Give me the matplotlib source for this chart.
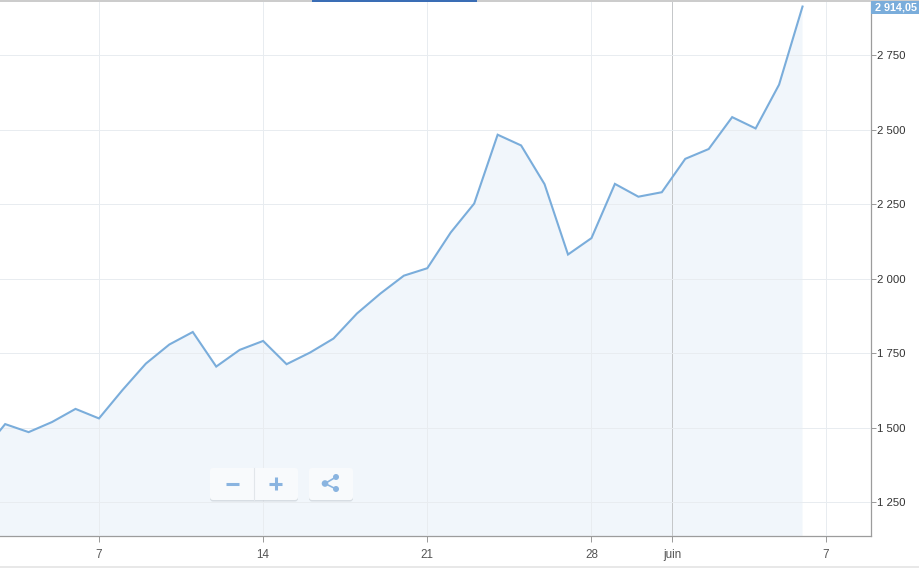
import matplotlib
matplotlib.use('Agg')
import matplotlib.pyplot as plt
from matplotlib.patches import FancyBboxPatch, Rectangle, Circle

plt.rcParams['font.family'] = ['Liberation Sans', 'DejaVu Sans']

# day of the month, counted on past 31 for june
days = list(range(2, 38))
values = [1416, 1513, 1486, 1520, 1564, 1532, 1627, 1716, 1780, 1822, 1706, 1762,
          1792, 1714, 1753, 1800, 1884, 1951, 2011, 2036, 2156, 2253, 2484, 2448,
          2318, 2082, 2137, 2319, 2276, 2291, 2403, 2436, 2543, 2505, 2652, 2914]

x_ticks = [7, 14, 21, 28, 31.45, 38]
x_labels = ['7', '14', '21', '28', 'juin', '7']
y_ticks = [1250, 1500, 1750, 2000, 2250, 2500, 2750]
y_labels = ['1 250', '1 500', '1 750', '2 000', '2 250', '2 500', '2 750']
last_label = '2 914,05'

W, H = 919, 569
LINE = '#7aaddb'
ICON = '#8ab4e0'

fig = plt.figure(figsize=(W / 100, H / 100), dpi=100)
ax = fig.add_axes([0, (H - 536) / H, 871 / W, 536 / H])

ax.fill_between(days, values, 1000, color='#f1f6fb', lw=0, zorder=1)
ax.plot(days, values, color=LINE, lw=1.5, zorder=3, solid_joinstyle='miter')

ax.set_xlim(2.78, 39.92)
ax.set_ylim(1137.5, 2936)
ax.set_xticks(x_ticks)
ax.set_xticklabels(x_labels, color='#555555', fontsize=8.4)
ax.set_yticks(y_ticks)
ax.set_yticklabels(y_labels, color='#333333', fontsize=8.2)
ax.yaxis.tick_right()
ax.tick_params(axis='x', length=4.5, width=0.7, color='#999999', pad=5)
ax.tick_params(axis='y', length=3.5, width=0.7, color='#999999', pad=0.8)
ax.grid(True, color='#e8ecf0', lw=0.7, zorder=2)
ax.set_axisbelow(False)
# crosshair line on the month tick
ax.get_xgridlines()[4].set_color('#c4c6c8')

for side in ['left', 'top']:
    ax.spines[side].set_visible(False)
for side in ['right', 'bottom']:
    ax.spines[side].set_color('#9c9c9c')
    ax.spines[side].set_linewidth(0.9)

# page furniture, drawn in pixels over the whole picture
top = fig.add_axes([0, 0, 1, 1], facecolor='none')
top.set_xlim(0, W)
top.set_ylim(H, 0)
top.axis('off')

top.add_patch(Rectangle((0, 0), W, 1.5, color='#cccccc', lw=0))
top.add_patch(Rectangle((312, 0), 165, 1.5, color='#3a6db5', lw=0))
top.add_patch(Rectangle((0, 566), W, 1.5, color='#e8e8e8', lw=0))

top.add_patch(Rectangle((871, 1), 48, 13, color=LINE, lw=0))
top.text(875, 7.5, last_label, color='white', fontsize=7.8, fontweight='bold',
         va='center', ha='left', clip_on=True)


def button(x0, x1):
    for off, col, a in [(1.5, '#b8bfc6', 0.45), (0, '#f8fafc', 1)]:
        top.add_patch(FancyBboxPatch((x0 + 2, 470 + off), x1 - x0 - 4, 28, lw=0,
                                     boxstyle='round,pad=2,rounding_size=3',
                                     facecolor=col, alpha=a, zorder=4))


button(210, 298)
button(309, 353)
top.plot([253.5, 253.5], [468, 500], color='#e2e6ea', lw=0.8, zorder=5)
top.plot([226, 239], [483.5, 483.5], color=ICON, lw=2.2, solid_capstyle='butt', zorder=5)
top.plot([269, 282], [483.5, 483.5], color=ICON, lw=2.2, solid_capstyle='butt', zorder=5)
top.plot([275.5, 275.5], [477, 490], color=ICON, lw=2.2, solid_capstyle='butt', zorder=5)
top.plot([336, 325, 336], [477, 483.5, 489], color=ICON, lw=1.2, zorder=5)
for cx, cy, r in [(336, 477, 3), (325, 483.5, 3.3), (336, 489, 3)]:
    top.add_patch(Circle((cx, cy), r, color=ICON, lw=0, zorder=6))

fig.savefig('out.png', dpi=100)
